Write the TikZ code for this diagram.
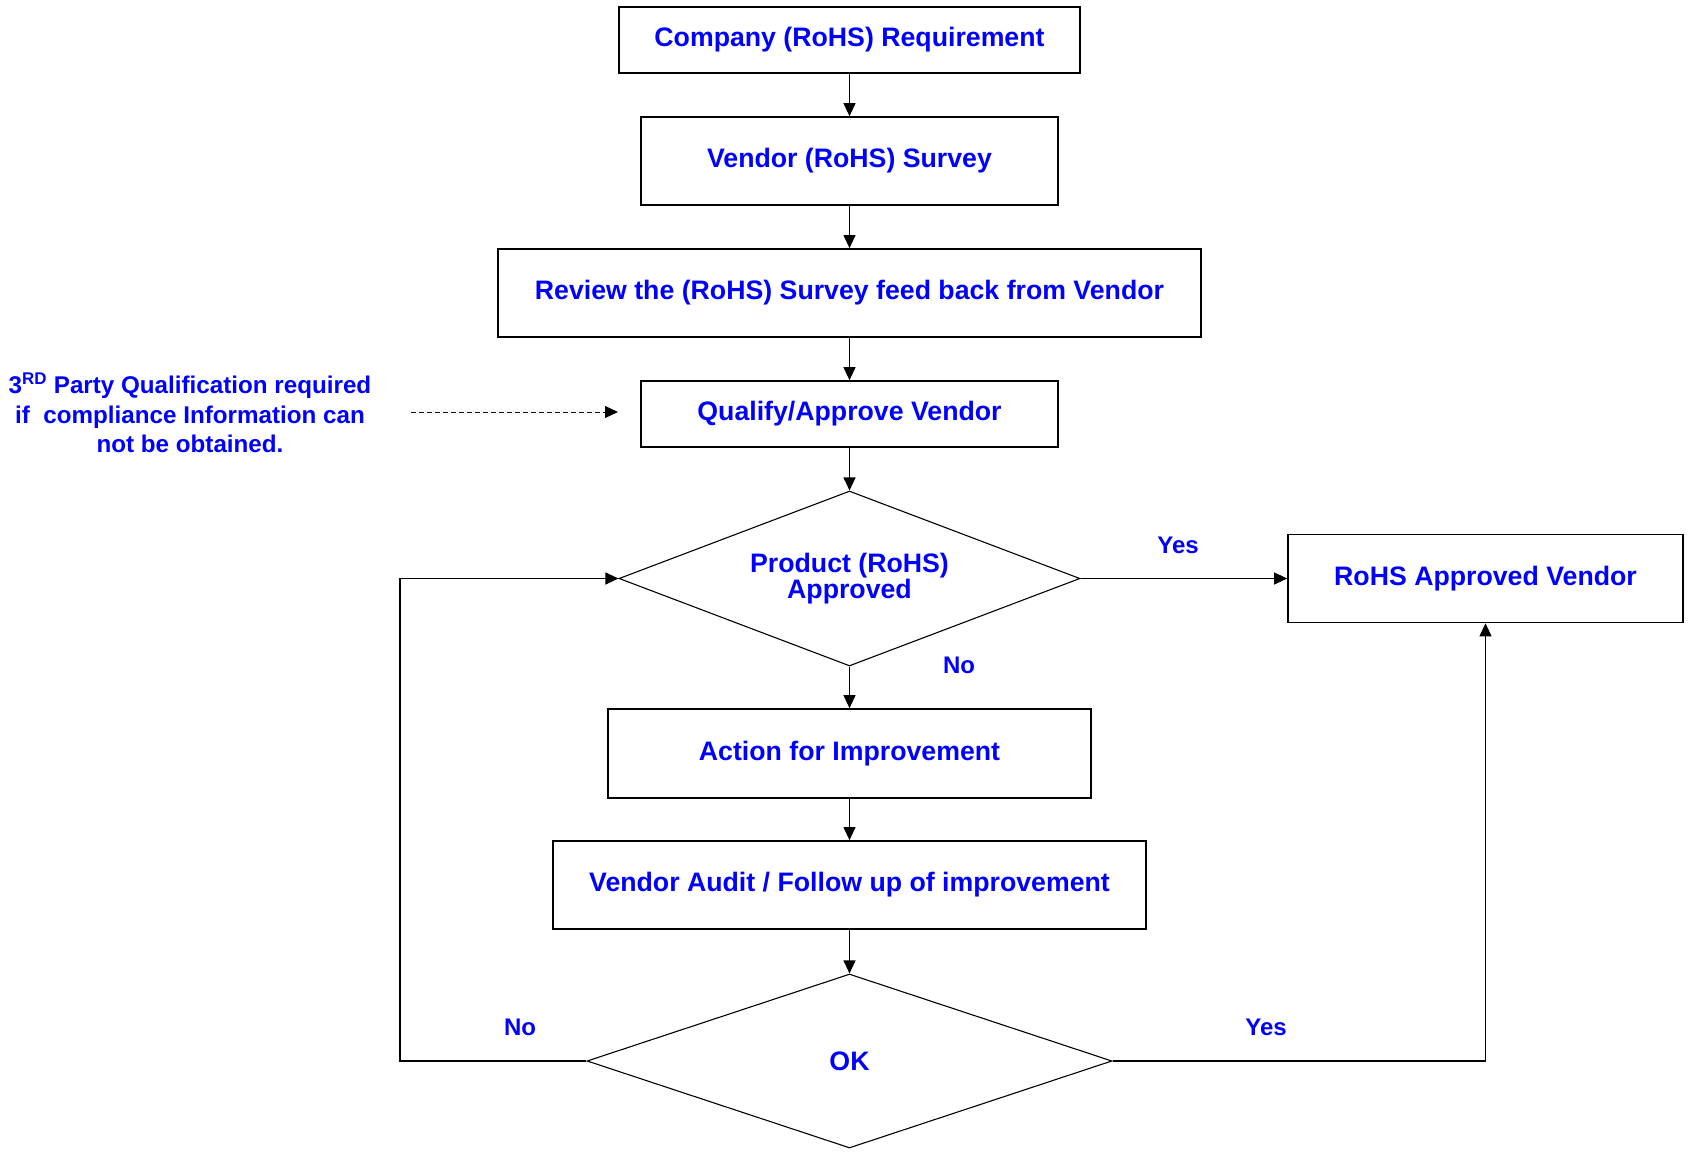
\documentclass[tikz,border=0pt]{standalone}
\usepackage{fontspec}
\setmainfont{Liberation Sans}
\usetikzlibrary{shapes.geometric,arrows.meta}
\begin{document}
\begin{tikzpicture}[x=1pt,y=-1pt,
  box/.style={draw, line width=1.7pt, rectangle, inner sep=0pt, text=blue,
    font=\bfseries\fontsize{26.7}{30}\selectfont},
  dia/.style={draw, line width=1.1pt, diamond, inner sep=0pt, text=blue, align=center,
    font=\bfseries\fontsize{26.7}{25.5}\selectfont},
  lbl/.style={text=blue, inner sep=0pt, font=\bfseries\fontsize{24}{28}\selectfont},
  conn/.style={line width=1.1pt, -{Triangle[length=13pt,width=12pt]}},
  plain/.style={line width=1.1pt}]
\useasboundingbox (0,0) rectangle (1690,1153);
\node[box, minimum width=461pt, minimum height=66pt] (b1) at (849.5,40) {Company (RoHS) Requirement};
\node[box, minimum width=417pt, minimum height=88pt] (b2) at (849.5,161) {Vendor (RoHS) Survey};
\node[box, minimum width=703pt, minimum height=88pt] (b3) at (849.5,293) {Review the (RoHS) Survey feed back from Vendor};
\node[box, minimum width=417pt, minimum height=66pt] (b4) at (849.5,414) {Qualify/Approve Vendor};
\node[dia, shape aspect=2.63, minimum width=461pt, minimum height=175pt] (d1) at (849.5,578.5) {Product (RoHS)\\Approved};
\node[box, minimum width=395pt, minimum height=88pt] (rv) at (1485.5,578.5) {RoHS Approved Vendor};
\node[box, minimum width=483pt, minimum height=89pt] (b5) at (849.5,753.5) {Action for Improvement};
\node[box, minimum width=593pt, minimum height=88pt] (b6) at (849.5,885) {Vendor Audit / Follow up of improvement};
\node[dia, shape aspect=3.02, minimum width=525pt, minimum height=174pt] (d2) at (849.5,1061) {OK};
\node[text=blue, inner sep=0pt, align=center, font=\bfseries\fontsize{24.2}{29.5}\selectfont] (note) at (190,413)
  {3\textsuperscript{RD} Party Qualification required\\if\ \ compliance Information can\\not be obtained.};
\coordinate (ns) at (411,412);
\coordinate (ne) at (618,412);
\coordinate (lb) at (400,1061);
\coordinate (lt) at (400,578.5);
\coordinate (rb) at (1485.5,1061);
\node[lbl] (y1) at (1178,545) {Yes};
\node[lbl] (n1) at (959,665) {No};
\node[lbl] (n2) at (520,1027) {No};
\node[lbl] (y2) at (1266,1027) {Yes};
\draw[conn] (b1) -- (b2);
\draw[conn] (b2) -- (b3);
\draw[conn] (b3) -- (b4);
\draw[conn] (b4) -- (d1);
\draw[conn] (d1) -- (b5);
\draw[conn] (b5) -- (b6);
\draw[conn] (b6) -- (d2);
\draw[conn] (d1.east) -- (rv.west);
\draw[conn] (d2.west) -- (lb) -- (lt) -- (d1.west);
\draw[conn] (d2.east) -- (rb) -- (rv.south);
\draw[line width=1pt, dash pattern=on 5pt off 3pt, -{Triangle[length=13pt,width=12pt]}] (ns) -- (ne);
\end{tikzpicture}
\end{document}
